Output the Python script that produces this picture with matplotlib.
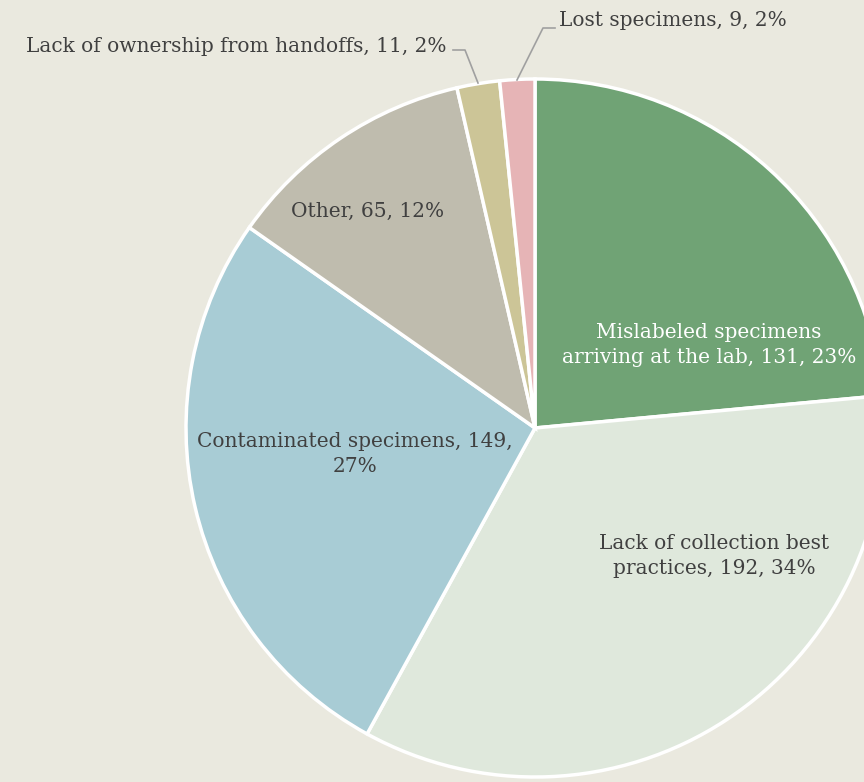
import matplotlib
matplotlib.use("Agg")
from matplotlib import pyplot as plt

# slices, clockwise from 12 o'clock
labels = ["Mislabeled specimens\narriving at the lab", "Lack of collection best\npractices",
          "Contaminated specimens,", "Other", "Lack of ownership from handoffs", "Lost specimens"]
values = [131, 192, 149, 65, 11, 9]
pcts = [23, 34, 27, 12, 2, 2]
colors = ["#70a375", "#dfe8dc", "#a8ccd5", "#bfbcae", "#ccc597", "#e6b4b6"]

bg = "#eae9df"
txt = "#404040"
W, H = 864, 782

fig = plt.figure(figsize=(8.64, 7.82), dpi=100, facecolor=bg)
ax = fig.add_axes([0, 0, 1, 1])
ax.set_facecolor(bg)

cx, cy, r = 535, H - 428, 349
ax.pie(values, colors=colors, startangle=90, counterclock=False, center=(cx, cy), radius=r,
       wedgeprops=dict(edgecolor="white", linewidth=2.5))
ax.set_xlim(0, W)
ax.set_ylim(0, H)
ax.set_aspect("auto")
ax.axis("off")

fnt = dict(family="DejaVu Serif", fontsize=14.5, color=txt)
ls = 1.45

ax.text(709, H - 345, f"{labels[0]}, {values[0]}, {pcts[0]}%", ha="center", va="center",
        linespacing=ls, **{**fnt, "color": "white"})
ax.text(714, H - 556, f"{labels[1]}, {values[1]}, {pcts[1]}%", ha="center", va="center",
        linespacing=ls, **fnt)
ax.text(355, H - 454, f"{labels[2]} {values[2]},\n{pcts[2]}%", ha="center", va="center",
        linespacing=ls, **fnt)
ax.text(368, H - 211, f"{labels[3]}, {values[3]}, {pcts[3]}%", ha="center", va="center", **fnt)
ax.text(447, H - 46, f"{labels[4]}, {values[4]}, {pcts[4]}%", ha="right", va="center", **fnt)
ax.text(559, H - 20, f"{labels[5]}, {values[5]}, {pcts[5]}%", ha="left", va="center", **fnt)

# leader lines
ax.plot([453, 465, 478], [H - 50, H - 50, H - 83], color="#a0a0a0", lw=1.2)
ax.plot([517, 543, 555], [H - 80, H - 28, H - 28], color="#a0a0a0", lw=1.2)

fig.savefig("out.png", dpi=100, facecolor=bg)
